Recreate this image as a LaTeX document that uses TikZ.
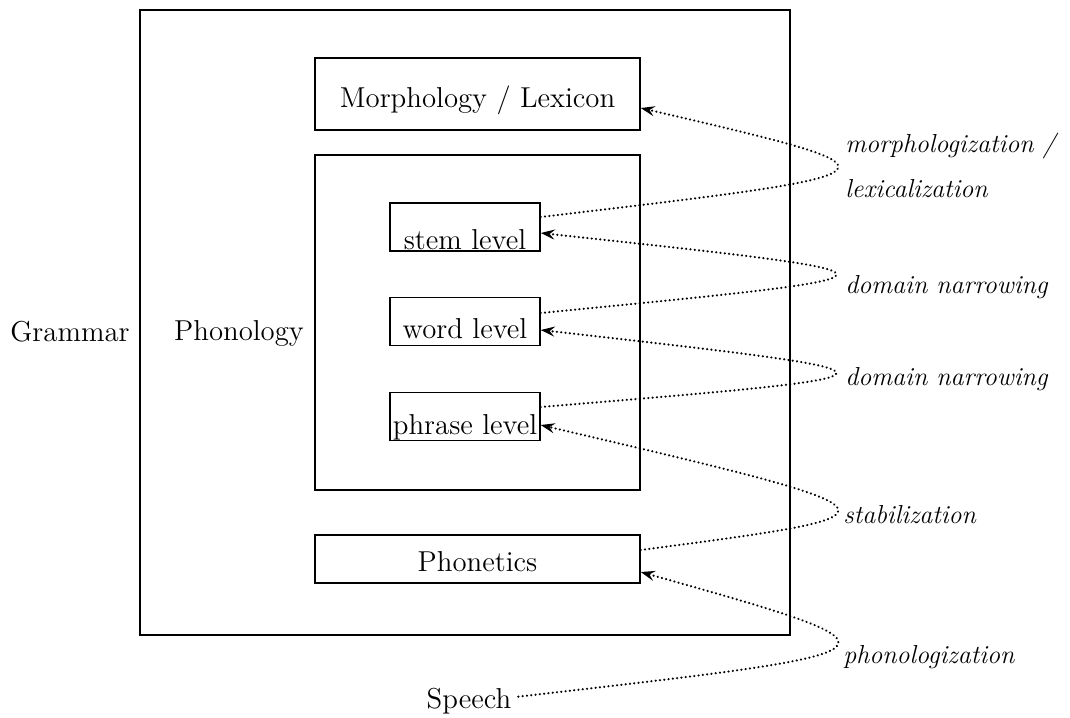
\documentclass[tikz,border=0pt]{standalone}
\usepackage{fontspec}
\usetikzlibrary{arrows.meta}
\begin{document}
\begin{tikzpicture}[x=0.5pt,y=-0.5pt,
  every node/.style={font=\fontsize{14.4}{17}\selectfont},
  frame/.style={draw, line width=0.7pt, inner sep=0pt},
  box/.style={frame, minimum width=162.5pt},
  lvl/.style={frame, minimum width=75pt, minimum height=24pt, text depth=0pt, text height=#1},
  lab/.style={font=\fontsize{13}{22.5}\selectfont\itshape, inner sep=0pt, anchor=base west, align=left},
  conn/.style={line width=1.2pt, dash pattern=on 0.01pt off 2.15pt, line cap=round,
    -{Stealth[length=7pt,width=5pt,inset=2.5pt]}}]
\useasboundingbox (0,0) rectangle (1070,717);
% containers
\node[frame, minimum width=325pt, minimum height=312.5pt] (grammarbox) at (465,322.5) {};
\node[box, minimum height=167.5pt] (phonbox) at (477.5,322.5) {};
% texts
\node[anchor=base] (grammar) at (70,341) {Grammar};
\node[anchor=base] (phonology) at (239,340) {Phonology};
\node[anchor=base] (speech) at (469,708) {Speech};
% boxes
\node[box, minimum height=36pt, text depth=0pt, text height=13pt] (morph) at (477.5,94) {Morphology / Lexicon};
\node[lvl=22pt] (stem) at (465,227) {stem level};
\node[lvl=17pt] (word) at (465,321.5) {word level};
\node[lvl=18pt] (phrase) at (465,416.5) {phrase level};
\node[box, minimum height=24pt, text depth=0pt, text height=12pt] (phonetics) at (477.5,559) {Phonetics};
% labels
\node[lab] (l1) at (845,197) {morphologization /\\lexicalization};
\node[lab] (l2) at (845,293) {domain narrowing};
\node[lab] (l3) at (845,385) {domain narrowing};
\node[lab] (l4) at (843,523) {stabilization};
\node[lab] (l5) at (843,663) {phonologization};
% connectors
\draw[conn] ([yshift=5pt]stem.east) .. controls +(376.7,-44.5) and +(276.7,64.5) .. ([yshift=-7pt]morph.east);
\draw[conn] ([yshift=4.25pt]word.east) .. controls +(393.3,-38.5) and +(393.3,42.5) .. ([yshift=-3pt]stem.east);
\draw[conn] ([yshift=4.75pt]phrase.east) .. controls +(393.3,-32.5) and +(393.3,44.5) .. ([yshift=-4.25pt]word.east);
\draw[conn] ([yshift=4.5pt]phonetics.east) .. controls +(277.8,-36.5) and +(376.8,88.5) .. ([yshift=-4.25pt]phrase.east);
\draw[conn] ([yshift=2pt]speech.east) .. controls +(400.2,-45.8) and +(281.2,79.2) .. ([yshift=-6.5pt]phonetics.east);
\end{tikzpicture}
\end{document}
